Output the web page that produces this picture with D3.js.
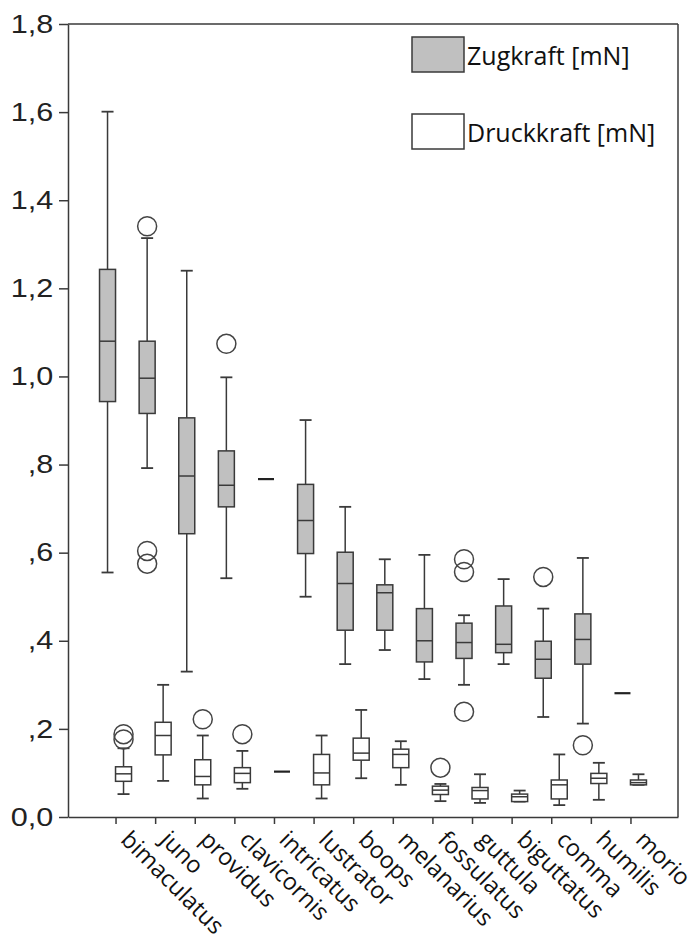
<!DOCTYPE html>
<html>
<head>
<meta charset="utf-8">
<script src="https://cdn.jsdelivr.net/npm/d3@7"></script>
<style>
  body { margin: 0; background: #fff; }
  svg { display: block; }
</style>
</head>
<body>
<div id="chart"></div>
<script>
const species = ["bimaculatus", "juno", "providus", "clavicornis", "intricatus", "lustrator", "boops",
    "melanarius", "fossulatus", "guttula", "biguttatus", "comma", "humilis", "morio"];

// [lower whisker, q1, median, q3, upper whisker]
const zugStats = [
    [0.555, 0.943, 1.080, 1.243, 1.601],
    [0.792, 0.916, 0.996, 1.080, 1.314],
    [0.330, 0.643, 0.774, 0.906, 1.240],
    [0.542, 0.704, 0.753, 0.831, 0.998],
    [0.767, 0.767, 0.767, 0.767, 0.767],
    [0.500, 0.598, 0.673, 0.755, 0.901],
    [0.347, 0.424, 0.530, 0.601, 0.704],
    [0.379, 0.424, 0.509, 0.527, 0.585],
    [0.313, 0.352, 0.400, 0.473, 0.595],
    [0.300, 0.360, 0.396, 0.440, 0.458],
    [0.347, 0.373, 0.392, 0.479, 0.540],
    [0.227, 0.315, 0.358, 0.399, 0.473],
    [0.212, 0.347, 0.403, 0.461, 0.588],
    [0.281, 0.281, 0.281, 0.281, 0.281]
];
const zugOutliers = [[], [1.341, 0.604, 0.575], [], [1.074], [], [], [], [], [],
    [0.585, 0.556, 0.239], [], [0.545], [0.163], []];

const druckStats = [
    [0.052, 0.081, 0.098, 0.114, 0.156],
    [0.082, 0.141, 0.185, 0.215, 0.300],
    [0.042, 0.073, 0.092, 0.130, 0.185],
    [0.064, 0.078, 0.099, 0.112, 0.150],
    [0.103, 0.103, 0.103, 0.103, 0.103],
    [0.042, 0.073, 0.100, 0.142, 0.185],
    [0.088, 0.129, 0.145, 0.179, 0.243],
    [0.073, 0.112, 0.142, 0.154, 0.172],
    [0.036, 0.051, 0.061, 0.070, 0.075],
    [0.032, 0.041, 0.060, 0.067, 0.097],
    [0.035, 0.035, 0.046, 0.052, 0.060],
    [0.027, 0.041, 0.073, 0.084, 0.142],
    [0.039, 0.076, 0.088, 0.099, 0.123],
    [0.073, 0.073, 0.078, 0.084, 0.097]
];
const druckOutliers = [[0.188, 0.176], [], [0.222], [0.188], [], [], [], [], [0.112],
    [], [], [], [], []];

const yTicks = [0, 0.2, 0.4, 0.6, 0.8, 1.0, 1.2, 1.4, 1.6, 1.8];
const yTickLabels = ["0,0", ",2", ",4", ",6", ",8", "1,0", "1,2", "1,4", "1,6", "1,8"];

const seriesNames = ["Zugkraft [mN]", "Druckkraft [mN]"];
const seriesFill = ["#c0c0c0", "#ffffff"];

const W = 689, H = 941;
const plotL = 68, plotR = 678, plotT = 24, plotB = 817;
const stroke = "#3a3a3a";

const svg = d3.select("#chart").append("svg")
    .attr("width", W)
    .attr("height", H);

svg.append("rect").attr("width", W).attr("height", H).attr("fill", "#fff");

const x = d3.scalePoint().domain(species).range([plotL, plotR]).padding(1.2);
const y = d3.scaleLinear().domain([0, 1.8]).range([plotB, plotT]);

// frame lines (top + right)
svg.append("line").attr("x1", plotL).attr("x2", plotR).attr("y1", plotT).attr("y2", plotT)
    .attr("stroke", stroke).attr("stroke-width", 1.5);
svg.append("line").attr("x1", plotR).attr("x2", plotR).attr("y1", plotT).attr("y2", plotB)
    .attr("stroke", stroke).attr("stroke-width", 1.5);

// y axis
const yAxis = svg.append("g")
    .attr("transform", `translate(${plotL},0)`)
    .call(d3.axisLeft(y).tickValues(yTicks).tickSize(9).tickSizeOuter(0)
        .tickFormat((d, i) => yTickLabels[i]));
yAxis.selectAll("path, line").attr("stroke", stroke).attr("stroke-width", 1.5);
yAxis.selectAll("text")
    .attr("x", -12.3)
    .attr("transform", "scale(1.2,1)")
    .attr("fill", "#222")
    .style("font-family", "'Liberation Sans', Arial, sans-serif")
    .style("font-size", "25.5px");

// x axis
const xAxis = svg.append("g")
    .attr("transform", `translate(0,${plotB})`)
    .call(d3.axisBottom(x).tickSize(7).tickSizeOuter(0).tickFormat(""));
xAxis.selectAll("path, line").attr("stroke", stroke).attr("stroke-width", 1.5);

svg.append("g").selectAll("text")
    .data(species)
    .enter()
    .append("text")
    .attr("transform", d => `translate(${x(d) + 4},841) rotate(45)`)
    .attr("fill", "#111")
    .style("font-family", "'Open Sans', sans-serif")
    .style("font-size", "23.5px")
    .text(d => d);

// boxes
const boxW = 16, capW = 12, offset = 8;
const groups = [
    { stats: zugStats, outliers: zugOutliers, dx: -offset, fill: seriesFill[0] },
    { stats: druckStats, outliers: druckOutliers, dx: offset, fill: seriesFill[1] }
];

groups.forEach(gr => {
    const g = svg.append("g");
    species.forEach((sp, i) => {
        const [lo, q1, med, q3, hi] = gr.stats[i];
        const cx = x(sp) + gr.dx;
        if (lo === hi) {
            g.append("line")
                .attr("x1", cx - boxW / 2).attr("x2", cx + boxW / 2)
                .attr("y1", y(med)).attr("y2", y(med))
                .attr("stroke", "#222").attr("stroke-width", 2.2);
            return;
        }
        // whiskers
        g.append("line").attr("x1", cx).attr("x2", cx).attr("y1", y(hi)).attr("y2", y(q3))
            .attr("stroke", stroke).attr("stroke-width", 1.5);
        g.append("line").attr("x1", cx).attr("x2", cx).attr("y1", y(q1)).attr("y2", y(lo))
            .attr("stroke", stroke).attr("stroke-width", 1.5);
        [lo, hi].forEach(v => {
            g.append("line").attr("x1", cx - capW / 2).attr("x2", cx + capW / 2)
                .attr("y1", y(v)).attr("y2", y(v))
                .attr("stroke", stroke).attr("stroke-width", 1.8);
        });
        g.append("rect")
            .attr("x", cx - boxW / 2).attr("width", boxW)
            .attr("y", y(q3)).attr("height", y(q1) - y(q3))
            .attr("fill", gr.fill).attr("stroke", stroke).attr("stroke-width", 1.5);
        g.append("line").attr("x1", cx - boxW / 2).attr("x2", cx + boxW / 2)
            .attr("y1", y(med)).attr("y2", y(med))
            .attr("stroke", stroke).attr("stroke-width", 1.5);
    });
    species.forEach((sp, i) => {
        const cx = x(sp) + gr.dx;
        g.selectAll(null)
            .data(gr.outliers[i])
            .enter()
            .append("circle")
            .attr("cx", cx)
            .attr("cy", d => y(d))
            .attr("r", 9.5)
            .attr("fill", "none")
            .attr("stroke", "#444")
            .attr("stroke-width", 1.5);
    });
});

// legend
const legend = svg.append("g");
seriesNames.forEach((name, i) => {
    const ly = 37 + i * 77;
    legend.append("rect")
        .attr("x", 412).attr("y", ly).attr("width", 52).attr("height", 35)
        .attr("fill", seriesFill[i]).attr("stroke", stroke).attr("stroke-width", 1.5);
    legend.append("text")
        .attr("x", 467).attr("y", ly + 28)
        .attr("fill", "#111")
        .style("font-family", "'Open Sans', sans-serif")
        .style("font-size", "25px")
        .text(name);
});
</script>
</body>
</html>
